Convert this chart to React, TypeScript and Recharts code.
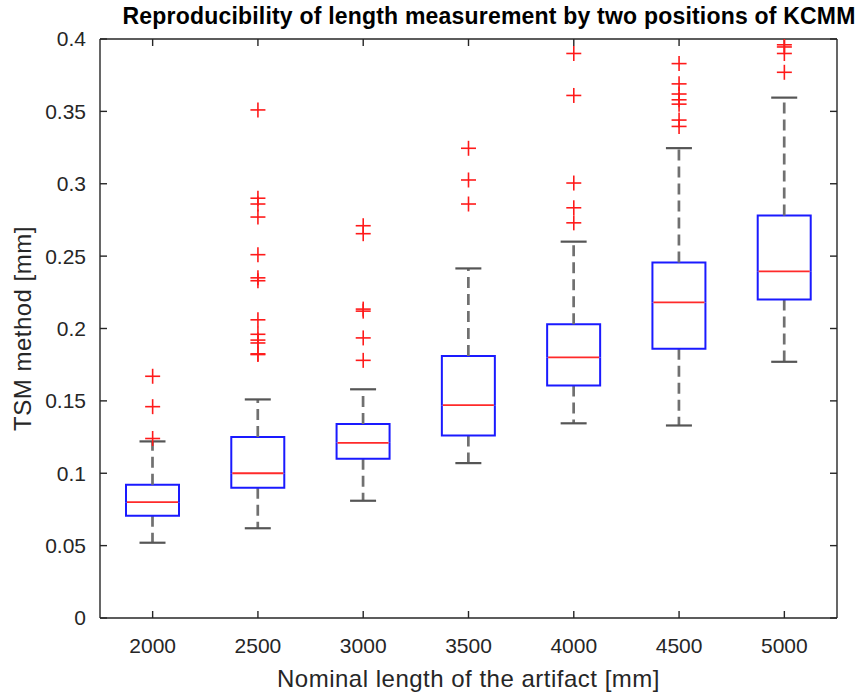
import React from 'react';
import { ComposedChart, Bar, Scatter, XAxis, YAxis } from 'recharts';

const categories = ['2000', '2500', '3000', '3500', '4000', '4500', '5000'];
const lowerWhisker = [0.052, 0.062, 0.081, 0.107, 0.1345, 0.133, 0.177];
const q1 = [0.0707, 0.09, 0.11, 0.126, 0.1606, 0.186, 0.22];
const median = [0.08, 0.1, 0.121, 0.147, 0.18, 0.218, 0.2395];
const q3 = [0.092, 0.125, 0.134, 0.181, 0.203, 0.2456, 0.278];
const upperWhisker = [0.122, 0.151, 0.158, 0.2415, 0.26, 0.3246, 0.3595];

const outliers2000 = [0.167, 0.146, 0.124];
const outliers2500 = [0.351, 0.29, 0.286, 0.277, 0.251, 0.235, 0.233, 0.206, 0.196, 0.192, 0.19, 0.1825, 0.182];
const outliers3000 = [0.271, 0.2655, 0.2134, 0.212, 0.1935, 0.178];
const outliers3500 = [0.3245, 0.3026, 0.286];
const outliers4000 = [0.39, 0.361, 0.3005, 0.2834, 0.273];
const outliers4500 = [0.383, 0.369, 0.362, 0.358, 0.355, 0.344, 0.3396];
const outliers5000 = [0.396, 0.3945, 0.39, 0.377];
const outlierGroups = [outliers2000, outliers2500, outliers3000, outliers3500, outliers4000, outliers4500, outliers5000];

const xTicks = [1, 2, 3, 4, 5, 6, 7];
const yTicks = [0, 0.05, 0.1, 0.15, 0.2, 0.25, 0.3, 0.35, 0.4];

const boxRows = categories.map((c, i) => ({
  x: i + 1,
  base: lowerWhisker[i],
  lowW: q1[i] - lowerWhisker[i],
  lowBox: median[i] - q1[i],
  upBox: q3[i] - median[i],
  upW: upperWhisker[i] - q3[i],
}));

const outlierRows = outlierGroups.flatMap((g, i) => g.map((v) => ({ x: i + 1, y: v })));

const AXIS = '#262626';
const WHISKER = '#707070';
const BLUE = '#1a1aff';
const RED = '#ff2a2a';
const FONT = '"Liberation Sans", Arial, sans-serif';
const CAP = 13;

const Empty = () => <g />;

const LowerWhisker = (p: any) => {
  const cx = p.x + p.width / 2;
  const bottom = p.y + p.height;
  return (
    <g>
      <line x1={cx} x2={cx} y1={p.y} y2={bottom} stroke={WHISKER} strokeWidth={2.7} strokeDasharray="11 6" />
      <line x1={cx - CAP} x2={cx + CAP} y1={bottom} y2={bottom} stroke="#555" strokeWidth={2.2} />
    </g>
  );
};

const UpperWhisker = (p: any) => {
  const cx = p.x + p.width / 2;
  const bottom = p.y + p.height;
  return (
    <g>
      <line x1={cx} x2={cx} y1={bottom} y2={p.y} stroke={WHISKER} strokeWidth={2.7} strokeDasharray="11 6" />
      <line x1={cx - CAP} x2={cx + CAP} y1={p.y} y2={p.y} stroke="#555" strokeWidth={2.2} />
    </g>
  );
};

const LowerBox = (p: any) => {
  const { x, y, width, height } = p;
  return (
    <path d={`M${x},${y}V${y + height}H${x + width}V${y}`} fill="none" stroke={BLUE} strokeWidth={2} />
  );
};

const UpperBox = (p: any) => {
  const { x, y, width, height } = p;
  return (
    <g>
      <path d={`M${x},${y + height}V${y}H${x + width}V${y + height}`} fill="none" stroke={BLUE} strokeWidth={2} />
      <line x1={x + 1} x2={x + width - 1} y1={y + height} y2={y + height} stroke={RED} strokeWidth={1.8} />
    </g>
  );
};

const Plus = (p: any) => {
  const { cx, cy } = p;
  return (
    <g stroke="#ff1a1a" strokeWidth={1.6}>
      <line x1={cx - 7.5} x2={cx + 7.5} y1={cy} y2={cy} />
      <line x1={cx} x2={cx} y1={cy - 7.5} y2={cy + 7.5} />
    </g>
  );
};

const XLabel = (p: any) => {
  const vb = p.viewBox;
  return (
    <text x={vb.x + vb.width / 2} y={vb.y + 69} textAnchor="middle" fill={AXIS}
      style={{ fontFamily: FONT, fontSize: 24, letterSpacing: 0.5 }}>
      Nominal length of the artifact [mm]
    </text>
  );
};

const YLabel = (p: any) => {
  const vb = p.viewBox;
  const cx = 31;
  const cy = vb.y + vb.height / 2;
  return (
    <text x={cx} y={cy} textAnchor="middle" fill={AXIS} transform={`rotate(-90 ${cx} ${cy})`}
      style={{ fontFamily: FONT, fontSize: 24, letterSpacing: 0.5 }}>
      TSM method [mm]
    </text>
  );
};

const tickStyle = { fontFamily: FONT, fontSize: 21, fill: AXIS };

export default function App() {
  return (
    <div style={{ position: 'relative', width: 868, height: 696, background: '#fff' }}>
      <style>{'body{margin:0}'}</style>
      <div style={{
        position: 'absolute', left: 489, top: 3, transform: 'translateX(-50%)', whiteSpace: 'nowrap',
        fontFamily: FONT, fontWeight: 'bold', fontSize: 23, letterSpacing: 0.2, lineHeight: '27px', color: '#000',
      }}>
        Reproducibility of length measurement by two positions of KCMM
      </div>
      <ComposedChart width={868} height={696} data={boxRows}
        margin={{ top: 34, right: 26, bottom: 0, left: 0 }}>
        <XAxis dataKey="x" type="number" domain={[0.5, 7.5]} ticks={xTicks} allowDataOverflow
          tickFormatter={(v: number) => categories[v - 1]} height={78} tickSize={-7} tickMargin={27}
          stroke={AXIS} strokeWidth={1.4} tick={tickStyle} label={(p: any) => <XLabel {...p} />} />
        <XAxis xAxisId="top" orientation="top" dataKey="x" type="number" domain={[0.5, 7.5]} ticks={xTicks}
          allowDataOverflow tickFormatter={() => ''} height={5} tickSize={-7} stroke={AXIS} strokeWidth={1.4} />
        <YAxis type="number" domain={[0, 0.4]} ticks={yTicks} allowDataOverflow width={100}
          tickSize={-7} tickMargin={21} stroke={AXIS} strokeWidth={1.4} tick={tickStyle}
          tickFormatter={(v: number) => String(v)} label={(p: any) => <YLabel {...p} />} />
        <YAxis yAxisId="right" orientation="right" type="number" domain={[0, 0.4]} ticks={yTicks}
          allowDataOverflow width={5} tickSize={-7} tickFormatter={() => ''} stroke={AXIS} strokeWidth={1.4} />
        <Bar dataKey="base" stackId="box" barSize={53} shape={<Empty />} isAnimationActive={false} />
        <Bar dataKey="lowW" stackId="box" barSize={53} shape={<LowerWhisker />} isAnimationActive={false} />
        <Bar dataKey="lowBox" stackId="box" barSize={53} shape={<LowerBox />} isAnimationActive={false} />
        <Bar dataKey="upBox" stackId="box" barSize={53} shape={<UpperBox />} isAnimationActive={false} />
        <Bar dataKey="upW" stackId="box" barSize={53} shape={<UpperWhisker />} isAnimationActive={false} />
        <Scatter data={outlierRows} dataKey="y" shape={<Plus />} isAnimationActive={false} />
      </ComposedChart>
    </div>
  );
}
